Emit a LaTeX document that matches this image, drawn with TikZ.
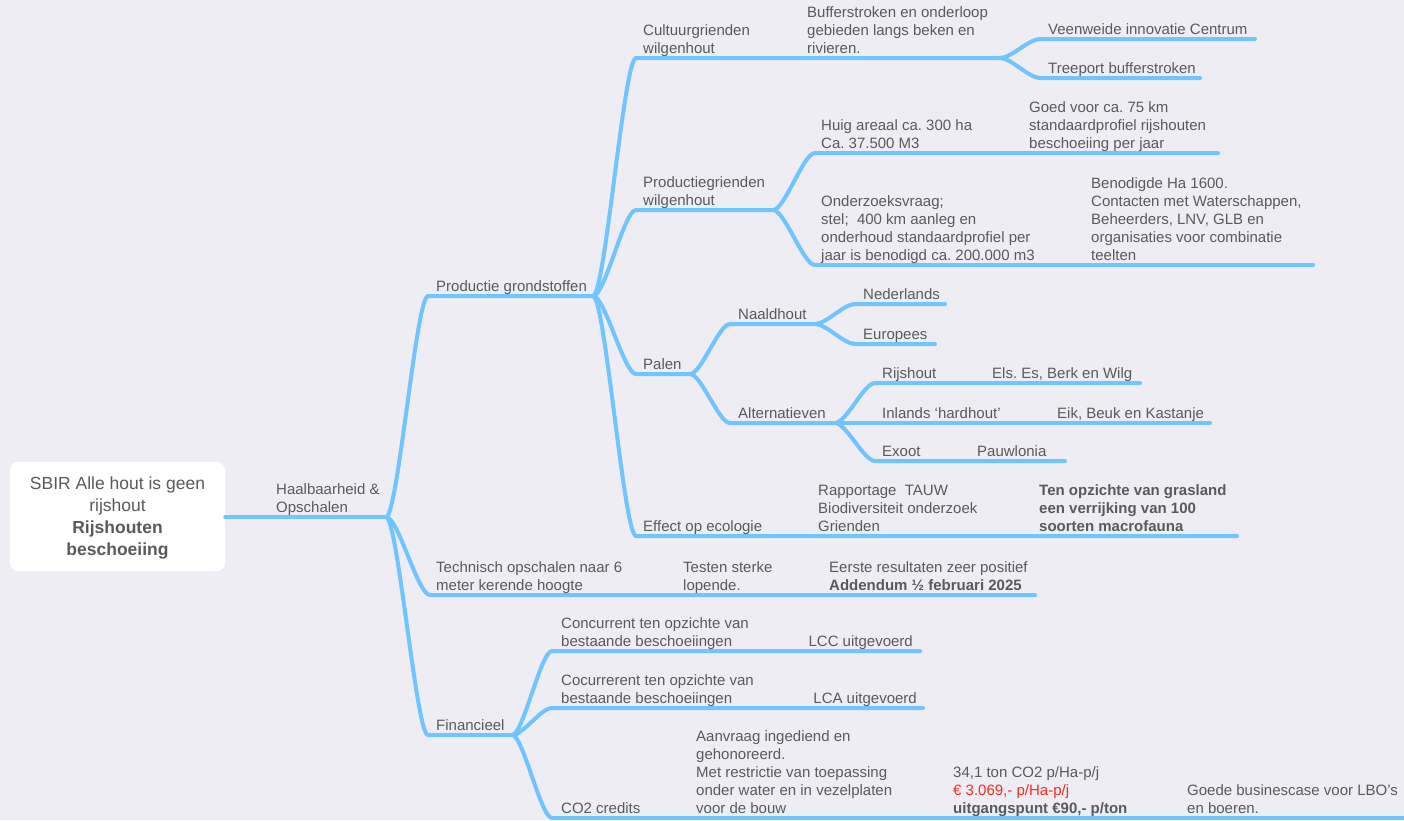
\documentclass[tikz,border=0pt]{standalone}
\usepackage{fontspec}
\setmainfont{Liberation Sans}
\frenchspacing
\usetikzlibrary{calc}
\definecolor{bgcol}{HTML}{EEEDF3}
\definecolor{linecol}{HTML}{70C4FF}
\definecolor{txtcol}{HTML}{5A5A5A}
\definecolor{redcol}{HTML}{FF2A1A}
\tikzset{
  mmline/.style={draw=linecol, line width=4pt, line cap=round, line join=round},
  lbl/.style={anchor=south west, inner sep=0pt, align=left, text=txtcol,
    font=\fontsize{15}{18}\selectfont, yshift=-1pt},
  lblr/.style={lbl, anchor=south east, align=right},
  rootbox/.style={draw=none, fill=white, rounded corners=8pt, minimum width=215pt,
    minimum height=109pt, inner sep=0pt},
  roottext/.style={align=center, text=txtcol, inner sep=0pt,
    font=\fontsize{17.5}{22}\selectfont}
}
\newcommand\mmbranch[3]{\draw[mmline] let \p1=(#1), \p2=(#2) in
  (\p1) .. controls (0.72*\x1+0.28*\x2, \y1) and (0.28*\x1+0.72*\x2, \y2) .. (\p2) -- (#3);}
\begin{document}
\begin{tikzpicture}[x=1pt, y=-1pt]
\fill[bgcol] (0,0) rectangle (1404,820);
\useasboundingbox (0,0) rectangle (1404,820);

% root
\node[rootbox] (root) at (117.5,516.5) {};
\node[roottext] (rootlbl) at (117.5,518.5) {SBIR Alle hout is geen\\rijshout\\\textbf{Rijshouten}\\\textbf{beschoeiing}};

% junction coordinates
\coordinate (r0) at (225,517);
\coordinate (h) at (386,517);
\coordinate (pgS) at (428,296);  \coordinate (pg) at (593,296);
\coordinate (toS) at (430,595);  \coordinate (toE) at (1035,595);
\coordinate (fiS) at (428,735);  \coordinate (fi) at (512,735);

\coordinate (cuS) at (636,58);   \coordinate (cu) at (1000,58);
\coordinate (prS) at (636,210);  \coordinate (pr) at (773,210);
\coordinate (paS) at (636,374);  \coordinate (pa) at (690,374);
\coordinate (ecS) at (636,536);  \coordinate (ecE) at (1237,536);

\coordinate (veS) at (1040,39);  \coordinate (veE) at (1255,39);
\coordinate (trS) at (1040,78);  \coordinate (trE) at (1200,78);

\coordinate (huS) at (815,153);  \coordinate (huE) at (1218,153);
\coordinate (onS) at (815,265);  \coordinate (onE) at (1313,265);

\coordinate (naS) at (730,324);  \coordinate (na) at (815,324);
\coordinate (alS) at (730,423);  \coordinate (al) at (835,423);
\coordinate (neS) at (855,304);  \coordinate (neE) at (945,304);
\coordinate (euS) at (855,344);  \coordinate (euE) at (935,344);
\coordinate (rhS) at (875,383);  \coordinate (rhE) at (1140,383);
\coordinate (inS) at (875,423);  \coordinate (inE) at (1210,423);
\coordinate (exS) at (875,461);  \coordinate (exE) at (1065,461);

\coordinate (c1S) at (552,651);  \coordinate (c1E) at (920,651);
\coordinate (c2S) at (552,708);  \coordinate (c2E) at (923,708);
\coordinate (c3S) at (552,818);  \coordinate (c3E) at (1412,818);

% connectors
\draw[mmline] (root.east |- r0) -- (h);
\mmbranch{h}{pgS}{pg}
\mmbranch{h}{toS}{toE}
\mmbranch{h}{fiS}{fi}
\mmbranch{pg}{cuS}{cu}
\mmbranch{pg}{prS}{pr}
\mmbranch{pg}{paS}{pa}
\mmbranch{pg}{ecS}{ecE}
\mmbranch{cu}{veS}{veE}
\mmbranch{cu}{trS}{trE}
\mmbranch{pr}{huS}{huE}
\mmbranch{pr}{onS}{onE}
\mmbranch{pa}{naS}{na}
\mmbranch{pa}{alS}{al}
\mmbranch{na}{neS}{neE}
\mmbranch{na}{euS}{euE}
\mmbranch{al}{rhS}{rhE}
\draw[mmline] (al) -- (inE);
\mmbranch{al}{exS}{exE}
\mmbranch{fi}{c1S}{c1E}
\mmbranch{fi}{c2S}{c2E}
\mmbranch{fi}{c3S}{c3E}

% labels
\node[lbl] (t1) at (276,517) {Haalbaarheid \&\\Opschalen\strut};
\node[lbl] (t2) at (436,296) {Productie grondstoffen\strut};
\node[lbl] (t3) at (436,595) {Technisch opschalen naar 6\\meter kerende hoogte\strut};
\node[lbl] (t4) at (683,595) {Testen sterke\\lopende.\strut};
\node[lbl] (t5) at (829,595) {Eerste resultaten zeer positief\\\textbf{Addendum ½ februari 2025}\strut};
\node[lbl] (t6) at (436,735) {Financieel\strut};
\node[lbl] (t7) at (643,58) {Cultuurgrienden\\wilgenhout\strut};
\node[lbl] (t8) at (807,58) {Bufferstroken en onderloop\\gebieden langs beken en\\rivieren.\strut};
\node[lbl] (t9) at (1048,39) {Veenweide innovatie Centrum\strut};
\node[lbl] (t10) at (1048,78) {Treeport bufferstroken\strut};
\node[lbl] (t11) at (643,210) {Productiegrienden\\wilgenhout\strut};
\node[lbl] (t12) at (821,153) {Huig areaal ca. 300 ha\\Ca. 37.500 M3\strut};
\node[lbl] (t13) at (1029,153) {Goed voor ca. 75 km\\standaardprofiel rijshouten\\beschoeiing per jaar\strut};
\node[lbl] (t14) at (821,265) {Onderzoeksvraag;\\stel;~ 400 km aanleg en\\onderhoud standaardprofiel per\\jaar is benodigd ca. 200.000 m3\strut};
\node[lbl] (t15) at (1091,265) {Benodigde Ha 1600.\\Contacten met Waterschappen,\\Beheerders, LNV, GLB en\\organisaties voor combinatie\\teelten\strut};
\node[lbl] (t16) at (643,374) {Palen\strut};
\node[lbl] (t17) at (738,324) {Naaldhout\strut};
\node[lbl] (t18) at (863,304) {Nederlands\strut};
\node[lbl] (t19) at (863,344) {Europees\strut};
\node[lbl] (t20) at (738,423) {Alternatieven\strut};
\node[lbl] (t21) at (882,383) {Rijshout\strut};
\node[lbl] (t22) at (992,383) {Els. Es, Berk en Wilg\strut};
\node[lbl] (t23) at (882,423) {Inlands ‘hardhout’\strut};
\node[lbl] (t24) at (1057,423) {Eik, Beuk en Kastanje\strut};
\node[lbl] (t25) at (882,461) {Exoot\strut};
\node[lbl] (t26) at (977,461) {Pauwlonia\strut};
\node[lbl] (t27) at (643,536) {Effect op ecologie\strut};
\node[lbl] (t28) at (818,536) {Rapportage~ TAUW\\Biodiversiteit onderzoek\\Grienden\strut};
\node[lbl, font=\fontsize{15}{18}\selectfont\bfseries] (t29) at (1039,536) {Ten opzichte van grasland\\een verrijking van 100\\soorten macrofauna\strut};
\node[lbl] (t30) at (561,651) {Concurrent ten opzichte van\\bestaande beschoeiingen\strut};
\node[lblr] (t31) at (913,651) {LCC uitgevoerd\strut};
\node[lbl] (t32) at (561,708) {Cocurrerent ten opzichte van\\bestaande beschoeiingen\strut};
\node[lblr] (t33) at (917,708) {LCA uitgevoerd\strut};
\node[lbl] (t34) at (561,818) {CO2 credits\strut};
\node[lbl] (t35) at (696,818) {Aanvraag ingediend en\\gehonoreerd.\\Met restrictie van toepassing\\onder water en in vezelplaten\\voor de bouw\strut};
\node[lbl] (t36) at (953,818) {34,1 ton CO2 p/Ha-p/j\\\textcolor{redcol}{€ 3.069,- p/Ha-p/j}\\\textbf{uitgangspunt €90,- p/ton}\strut};
\node[lbl] (t37) at (1187,818) {Goede businescase voor LBO’s\\en boeren.\strut};
\end{tikzpicture}
\end{document}
